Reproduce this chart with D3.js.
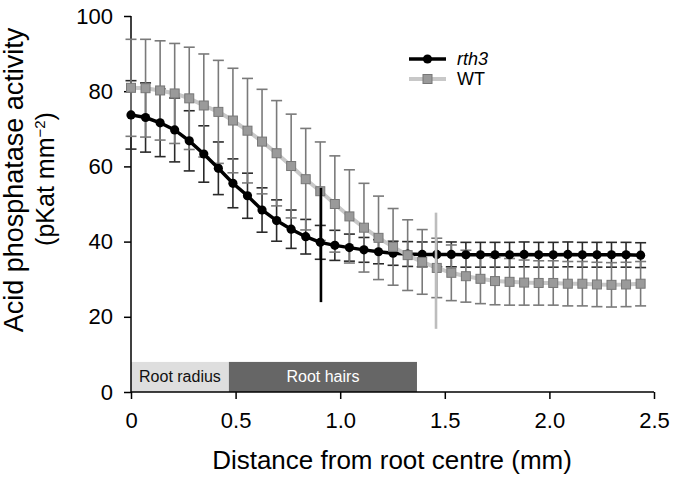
<!DOCTYPE html>
<html><head><meta charset="utf-8">
<script src="https://cdn.jsdelivr.net/npm/d3@7"></script>
<style>body{margin:0;background:#fff}svg{display:block}text{font-family:"Liberation Sans",Arial,sans-serif}</style>
</head><body><svg id="c" width="673" height="477"></svg>
<script>
const step = 0.0696;
const rth3Mean = [73.7,73.0,71.6,69.7,66.8,63.3,59.5,55.5,52.2,48.4,45.6,43.3,41.3,39.8,39.0,38.4,37.8,37.3,36.9,36.7,36.6,36.6,36.6,36.5,36.5,36.5,36.5,36.6,36.5,36.5,36.6,36.5,36.5,36.5,36.5,36.4];
const rth3Err  = [9.1,9.2,9.0,8.5,8.0,7.5,7.0,6.5,6.0,5.9,5.5,5.1,4.6,4.5,4.0,3.6,3.3,3.2,3.2,3.3,3.3,3.3,3.3,3.3,3.3,3.3,3.3,3.3,3.3,3.3,3.3,3.3,3.3,3.3,3.3,3.3];
const wtMean = [80.9,80.8,80.2,79.4,78.1,76.2,74.5,72.2,69.5,66.6,63.5,60.1,56.6,53.4,50.0,46.7,43.7,41.0,38.6,36.4,34.6,33.0,31.7,30.8,30.1,29.5,29.3,29.1,29.0,29.0,28.8,28.8,28.6,28.5,28.6,28.8];
const wtErr  = [12.9,13.0,13.2,13.3,13.6,13.7,13.7,13.9,13.9,13.9,14.0,13.8,13.5,13.1,12.8,12.4,11.8,11.1,10.2,9.4,8.6,7.9,7.4,6.9,6.6,6.3,6.2,6.0,5.9,5.9,5.9,5.9,5.9,5.9,5.9,5.9];
const distances = rth3Mean.map((d,i)=>+(i*step).toFixed(4));
const xTicks = [0,0.5,1.0,1.5,2.0,2.5];
const xTickLabels = ["0","0.5","1.0","1.5","2.0","2.5"];
const yTicks = [0,20,40,60,80,100];
const zones = [{label:"Root radius", x0:0, x1:0.468, top:8, fill:"#dedede", text:"#111"},
               {label:"Root hairs", x0:0.468, x1:1.367, top:8, fill:"#666666", text:"#fff"}];
const vlines = [{x:0.908, y0:23.9, y1:54.3, color:"#000"},{x:1.458, y0:16.8, y1:47.7, color:"#bdbdbd"}];

const svg = d3.select("#c");
const x = d3.scaleLinear().domain([0,2.5]).range([131,654]);
const y = d3.scaleLinear().domain([0,100]).range([392,16]);

zones.forEach(z=>{
  svg.append("rect").attr("x",x(z.x0)).attr("y",y(z.top)).attr("width",x(z.x1)-x(z.x0)).attr("height",y(0)-y(z.top)).attr("fill",z.fill);
  svg.append("text").attr("x",(x(z.x0)+x(z.x1))/2).attr("y",y(0)-10).attr("text-anchor","middle").attr("font-size",16).attr("fill",z.text).text(z.label);
});

const ya = svg.append("g").attr("transform","translate(131,0)")
  .call(d3.axisLeft(y).tickValues(yTicks).tickSize(7).tickPadding(11).tickFormat(d3.format("d")));
const xa = svg.append("g").attr("transform","translate(0,392)")
  .call(d3.axisBottom(x).tickValues(xTicks).tickSize(7).tickPadding(13).tickFormat((d,i)=>xTickLabels[i]));
[ya,xa].forEach(g=>{
  g.select(".domain").attr("stroke","#000").attr("stroke-width",1.5);
  g.selectAll(".tick line").attr("stroke","#000").attr("stroke-width",1.5);
  g.selectAll(".tick text").attr("font-size",22).attr("fill","#000").attr("font-family","Liberation Sans, Arial, sans-serif");
});
xa.select(".domain").attr("d",`M${x(0)},0H${x(2.5)}`);
ya.select(".domain").attr("d",`M0,${y(100)}V${y(0)}`);

svg.append("text").attr("x",392).attr("y",469).attr("text-anchor","middle").attr("font-size",26).text("Distance from root centre (mm)");
svg.append("text").attr("transform","translate(23,180) rotate(-90)").attr("text-anchor","middle").attr("font-size",27).text("Acid phosphatase activity");
const t2 = svg.append("text").attr("transform","translate(54,179) rotate(-90)").attr("text-anchor","middle").attr("font-size",25);
t2.append("tspan").text("(pKat mm");
t2.append("tspan").attr("font-size",15).attr("dy",-9).text("\u22122");
t2.append("tspan").attr("dy",9).text(")");

function errorBars(mean, err, color, w){
  const g = svg.append("g").attr("stroke",color).attr("stroke-width",w);
  mean.forEach((m,i)=>{
    const cx = x(distances[i]), t = y(m+err[i]), b = y(m-err[i]);
    g.append("line").attr("x1",cx).attr("x2",cx).attr("y1",t).attr("y2",b);
    g.append("line").attr("x1",cx-5.5).attr("x2",cx+5.5).attr("y1",t).attr("y2",t);
    g.append("line").attr("x1",cx-5.5).attr("x2",cx+5.5).attr("y1",b).attr("y2",b);
  });
}
const line = d3.line().x((d,i)=>x(distances[i])).y(d=>y(d));

errorBars(rth3Mean, rth3Err, "#2a2a2a", 1.6);
errorBars(wtMean, wtErr, "#7a7a7a", 1.6);
svg.append("path").datum(rth3Mean).attr("d",line).attr("fill","none").attr("stroke","#000").attr("stroke-width",3.5);
svg.append("g").selectAll("circle").data(rth3Mean).join("circle")
  .attr("cx",(d,i)=>x(distances[i])).attr("cy",d=>y(d)).attr("r",4.6).attr("fill","#000");
svg.append("path").datum(wtMean).attr("d",line).attr("fill","none").attr("stroke","#c8c8c8").attr("stroke-width",4);
svg.append("g").selectAll("rect").data(wtMean).join("rect")
  .attr("x",(d,i)=>x(distances[i])-4.5).attr("y",d=>y(d)-4.5).attr("width",9).attr("height",9)
  .attr("fill","#9a9a9a").attr("stroke","#777").attr("stroke-width",1);

vlines.forEach(v=>{
  svg.append("line").attr("x1",x(v.x)).attr("x2",x(v.x)).attr("y1",y(v.y1)).attr("y2",y(v.y0)).attr("stroke",v.color).attr("stroke-width",2.6);
});

const lg = svg.append("g");
lg.append("line").attr("x1",409).attr("x2",446).attr("y1",59).attr("y2",59).attr("stroke","#000").attr("stroke-width",3.5);
lg.append("circle").attr("cx",427.5).attr("cy",59).attr("r",4.6).attr("fill","#000");
lg.append("text").attr("x",457).attr("y",65).attr("font-size",18).attr("font-style","italic").text("rth3");
lg.append("line").attr("x1",409).attr("x2",446).attr("y1",79).attr("y2",79).attr("stroke","#c8c8c8").attr("stroke-width",4);
lg.append("rect").attr("x",423).attr("y",74.5).attr("width",9).attr("height",9).attr("fill","#9a9a9a").attr("stroke","#777");
lg.append("text").attr("x",457).attr("y",85).attr("font-size",18).text("WT");
</script></body></html>
